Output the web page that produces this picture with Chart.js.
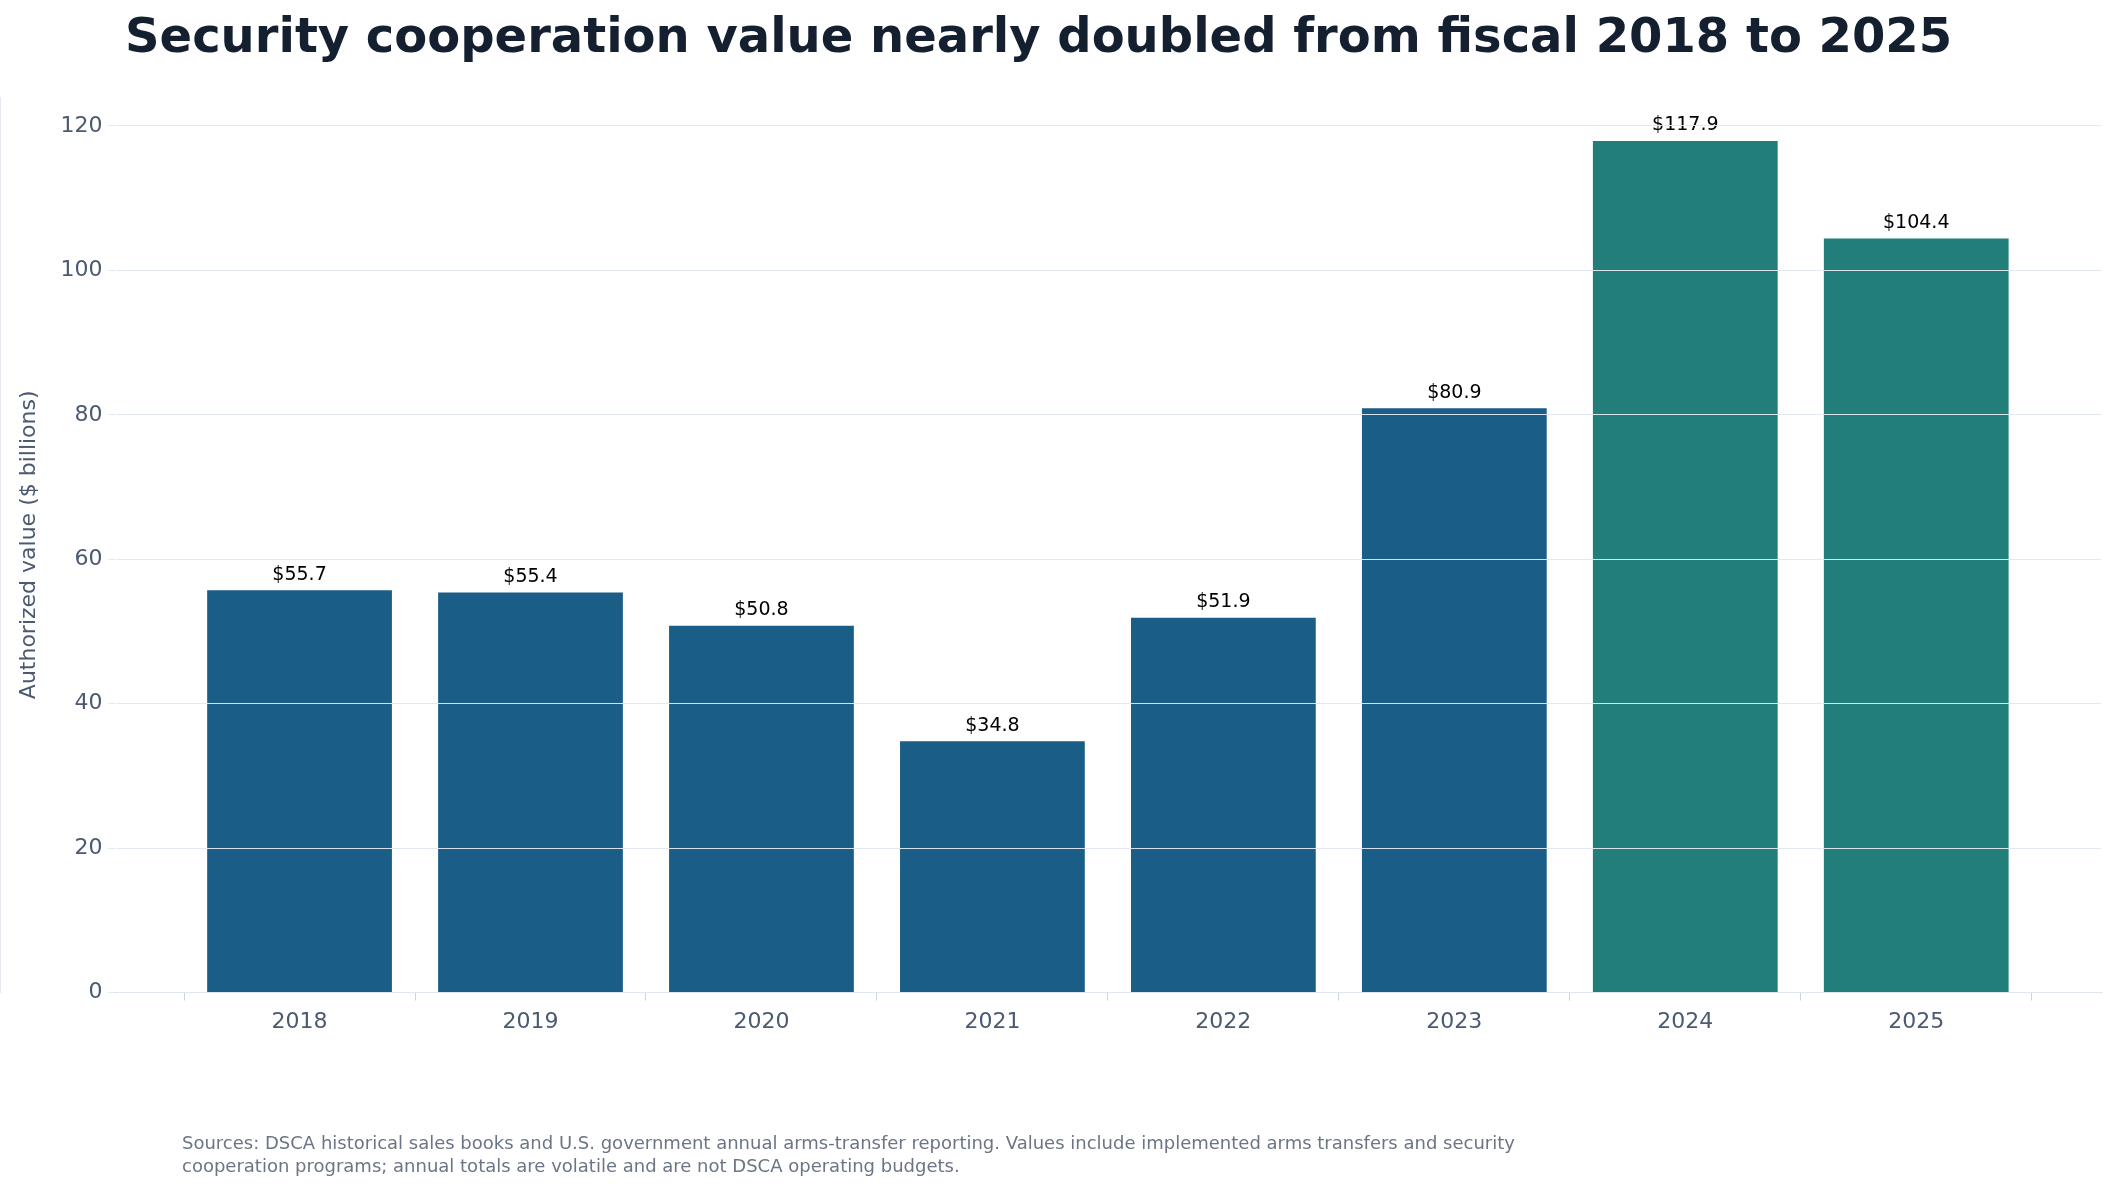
<!DOCTYPE html>
<html><head><meta charset="utf-8">
<script src="https://cdn.jsdelivr.net/npm/chart.js@4/dist/chart.umd.min.js"></script>
<style>html,body{margin:0;padding:0;background:#fff}#w{width:2108px;height:1193px}</style>
</head><body><div id="w"><canvas id="c"></canvas></div>
<script>
const years = ["2018","2019","2020","2021","2022","2023","2024","2025"];
const values = [55.7,55.4,50.8,34.8,51.9,80.9,117.9,104.4];
const barColors = ["#1a5e88","#1a5e88","#1a5e88","#1a5e88","#1a5e88","#1a5e88","#227e79","#227e79"];
const yTicks = [0,20,40,60,80,100,120];
const titleText = "Security cooperation value nearly doubled from fiscal 2018 to 2025";
const footerLines = ["Sources: DSCA historical sales books and U.S. government annual arms-transfer reporting. Values include implemented arms transfers and security","cooperation programs; annual totals are volatile and are not DSCA operating budgets."];
const F = "'DejaVu Sans', sans-serif";

const textPlugin = {
  id:'txt',
  afterDatasetsDraw(chart){
    const ctx = chart.ctx;
    ctx.save();
    ctx.font = "19px "+F; ctx.fillStyle="#000"; ctx.textAlign="center"; ctx.textBaseline="bottom";
    chart.getDatasetMeta(0).data.forEach((b,i)=>{ ctx.fillText("$"+values[i].toFixed(1), b.x, b.y-6); });
    ctx.restore();
  },
  afterDraw(chart){
    const ctx = chart.ctx;
    ctx.save();
    ctx.font = "bold 48px "+F; ctx.fillStyle="#14202f"; ctx.textAlign="left"; ctx.textBaseline="middle";
    ctx.fillText(titleText, 125, 40);
    ctx.font = "18px "+F; ctx.fillStyle="#6b7585";
    footerLines.forEach((l,i)=>ctx.fillText(l, 182, 1144+i*23));
    ctx.restore();
  }
};

new Chart(document.getElementById('c'), {
  type:'bar',
  data:{ datasets:[{ data: values.map((v,i)=>({x:i,y:v})), backgroundColor:barColors, barPercentage:0.8, categoryPercentage:1 }]},
  options:{
    responsive:true, maintainAspectRatio:false, animation:false,
    layout:{padding:{top:97,left:12,right:7,bottom:150}},
    plugins:{legend:{display:false},tooltip:{enabled:false}},
    scales:{
      x:{ type:'linear', min:-0.793, max:7.8, offset:false,
        afterBuildTicks(s){ s.ticks = years.map((y,i)=>({value:i})); },
        ticks:{ callback:(v)=>years[v], color:"#4b5a70", font:{family:F,size:22}, padding:8, autoSkip:false, maxRotation:0 },
        grid:{ display:true, drawOnChartArea:false, drawTicks:true, tickLength:8, color:"#cbd5e1" },
        border:{ color:"#cbd5e1" }
      },
      y:{ min:0, max:124,
        afterBuildTicks(s){ s.ticks = yTicks.map(v=>({value:v})); },
        ticks:{ color:"#4b5a70", font:{family:F,size:22}, padding:6 },
        grid:{ color:"rgba(226,232,240,0.95)", tickLength:8, z:1 },
        border:{ color:"#cbd5e1" },
        title:{ display:true, text:"Authorized value ($ billions)", color:"#4b5a70", font:{family:F,size:22}, padding:{bottom:12} }
      }
    }
  },
  plugins:[textPlugin]
});
</script></body></html>
